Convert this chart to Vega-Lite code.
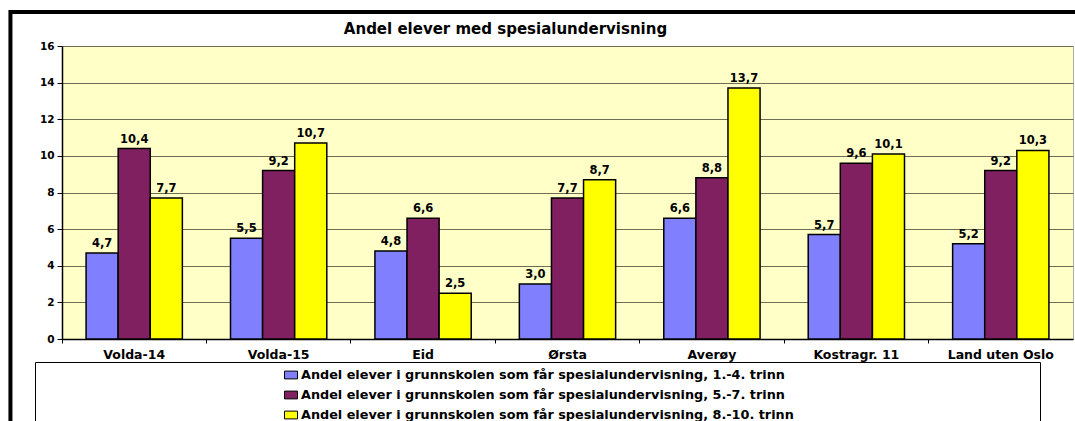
{
  "$schema": "https://vega.github.io/schema/vega-lite/v6.json",
  "width": 1011,
  "height": 293,
  "autosize": {"type": "none"},
  "padding": {"left": 62, "top": 46, "right": 2, "bottom": 82},
  "background": "white",
  "title": {
    "text": "Andel elever med spesialundervisning",
    "font": "DejaVu Sans",
    "fontSize": 15,
    "fontWeight": "bold",
    "color": "black",
    "anchor": "middle",
    "dx": -62,
    "dy": 39,
    "offset": 0,
    "baseline": "alphabetic"
  },
  "data": {
    "values": [
      {"kommune": "Volda-14", "serie": "Andel elever i grunnskolen som får spesialundervisning, 1.-4. trinn", "verdi": 4.7},
      {"kommune": "Volda-14", "serie": "Andel elever i grunnskolen som får spesialundervisning, 5.-7. trinn", "verdi": 10.4},
      {"kommune": "Volda-14", "serie": "Andel elever i grunnskolen som får spesialundervisning, 8.-10. trinn", "verdi": 7.7},
      {"kommune": "Volda-15", "serie": "Andel elever i grunnskolen som får spesialundervisning, 1.-4. trinn", "verdi": 5.5},
      {"kommune": "Volda-15", "serie": "Andel elever i grunnskolen som får spesialundervisning, 5.-7. trinn", "verdi": 9.2},
      {"kommune": "Volda-15", "serie": "Andel elever i grunnskolen som får spesialundervisning, 8.-10. trinn", "verdi": 10.7},
      {"kommune": "Eid", "serie": "Andel elever i grunnskolen som får spesialundervisning, 1.-4. trinn", "verdi": 4.8},
      {"kommune": "Eid", "serie": "Andel elever i grunnskolen som får spesialundervisning, 5.-7. trinn", "verdi": 6.6},
      {"kommune": "Eid", "serie": "Andel elever i grunnskolen som får spesialundervisning, 8.-10. trinn", "verdi": 2.5},
      {"kommune": "Ørsta", "serie": "Andel elever i grunnskolen som får spesialundervisning, 1.-4. trinn", "verdi": 3.0},
      {"kommune": "Ørsta", "serie": "Andel elever i grunnskolen som får spesialundervisning, 5.-7. trinn", "verdi": 7.7},
      {"kommune": "Ørsta", "serie": "Andel elever i grunnskolen som får spesialundervisning, 8.-10. trinn", "verdi": 8.7},
      {"kommune": "Averøy", "serie": "Andel elever i grunnskolen som får spesialundervisning, 1.-4. trinn", "verdi": 6.6},
      {"kommune": "Averøy", "serie": "Andel elever i grunnskolen som får spesialundervisning, 5.-7. trinn", "verdi": 8.8},
      {"kommune": "Averøy", "serie": "Andel elever i grunnskolen som får spesialundervisning, 8.-10. trinn", "verdi": 13.7},
      {"kommune": "Kostragr. 11", "serie": "Andel elever i grunnskolen som får spesialundervisning, 1.-4. trinn", "verdi": 5.7},
      {"kommune": "Kostragr. 11", "serie": "Andel elever i grunnskolen som får spesialundervisning, 5.-7. trinn", "verdi": 9.6},
      {"kommune": "Kostragr. 11", "serie": "Andel elever i grunnskolen som får spesialundervisning, 8.-10. trinn", "verdi": 10.1},
      {"kommune": "Land uten Oslo", "serie": "Andel elever i grunnskolen som får spesialundervisning, 1.-4. trinn", "verdi": 5.2},
      {"kommune": "Land uten Oslo", "serie": "Andel elever i grunnskolen som får spesialundervisning, 5.-7. trinn", "verdi": 9.2},
      {"kommune": "Land uten Oslo", "serie": "Andel elever i grunnskolen som får spesialundervisning, 8.-10. trinn", "verdi": 10.3}
    ]
  },
  "layer": [
    {
      "encoding": {
        "x": {
          "field": "kommune",
          "type": "nominal",
          "sort": null,
          "scale": {"paddingInner": 0.3333, "paddingOuter": 0.1667},
          "axis": {
            "title": null,
            "labelAngle": 0,
            "labelFont": "DejaVu Sans",
            "labelFontSize": 12.5,
            "labelFontWeight": "bold",
            "labelColor": "black",
            "labelPadding": 5,
            "tickSize": 4,
            "tickColor": "black",
            "bandPosition": -0.25,
            "domainColor": "black",
            "domainWidth": 1.5,
            "grid": false
          }
        },
        "xOffset": {
          "field": "serie",
          "type": "nominal",
          "sort": null,
          "scale": {"paddingInner": 0, "paddingOuter": 0}
        },
        "y": {
          "field": "verdi",
          "type": "quantitative",
          "scale": {"domain": [0, 16], "nice": false},
          "axis": {
            "title": null,
            "values": [0, 2, 4, 6, 8, 10, 12, 14, 16],
            "labelFont": "DejaVu Sans",
            "labelFontSize": 10.5,
            "labelFontWeight": "bold",
            "labelColor": "black",
            "labelPadding": 3,
            "tickSize": 5,
            "tickColor": "black",
            "domainColor": "black",
            "domainWidth": 1.5,
            "grid": true,
            "gridColor": "#6e6e52",
            "gridWidth": 1
          }
        }
      },
      "layer": [
        {
          "mark": {"type": "bar", "stroke": "black", "strokeWidth": 1.5},
          "encoding": {
            "color": {
              "field": "serie",
              "type": "nominal",
              "sort": null,
              "scale": {
                "domain": [
                  "Andel elever i grunnskolen som får spesialundervisning, 1.-4. trinn",
                  "Andel elever i grunnskolen som får spesialundervisning, 5.-7. trinn",
                  "Andel elever i grunnskolen som får spesialundervisning, 8.-10. trinn"
                ],
                "range": ["#8080FF", "#802060", "#FFFF00"]
              },
              "legend": {
                "orient": "none",
                "legendX": -27,
                "legendY": 316,
                "direction": "vertical",
                "strokeColor": "black",
                "fillColor": "white",
                "padding": 6,
                "symbolType": "M-1,-0.6H1V0.6H-1Z",
                "symbolSize": 169,
                "symbolStrokeColor": "black",
                "symbolStrokeWidth": 1,
                "symbolOffset": 243,
                "labelFont": "DejaVu Sans",
                "labelFontSize": 12.8,
                "labelFontWeight": "bold",
                "labelColor": "black",
                "labelLimit": 1000,
                "labelOffset": 3,
                "rowPadding": 6,
                "title": " ",
                "titleOrient": "right",
                "titlePadding": 240
              }
            }
          }
        },
        {
          "mark": {
            "type": "text",
            "baseline": "alphabetic",
            "dy": -6,
            "font": "DejaVu Sans",
            "fontSize": 11.5,
            "fontWeight": "bold",
            "color": "black"
          },
          "encoding": {
            "text": {"field": "verdi", "type": "quantitative", "format": ".1f"}
          }
        }
      ]
    },
    {
      "data": {"values": [{"ramme": "kant"}]},
      "mark": {"type": "rect", "fill": null, "fillOpacity": 0, "stroke": "black", "strokeWidth": 4, "clip": false},
      "encoding": {
        "x": {"datum": -0.051, "type": "quantitative", "scale": {"domain": [0, 1], "nice": false, "zero": false}, "axis": null},
        "x2": {"datum": 1.1},
        "y": {"datum": 1.116, "type": "quantitative", "scale": {"domain": [0, 1], "nice": false, "zero": false}, "axis": null},
        "y2": {"datum": -0.4}
      }
    }
  ],
  "resolve": {"scale": {"x": "independent", "y": "independent"}},
  "config": {
    "font": "DejaVu Sans",
    "view": {"stroke": "#b0b0a0", "fill": "#FFFFC8"},
    "locale": {
      "number": {"decimal": ",", "thousands": " ", "grouping": [3], "currency": ["", " kr"]}
    }
  }
}
